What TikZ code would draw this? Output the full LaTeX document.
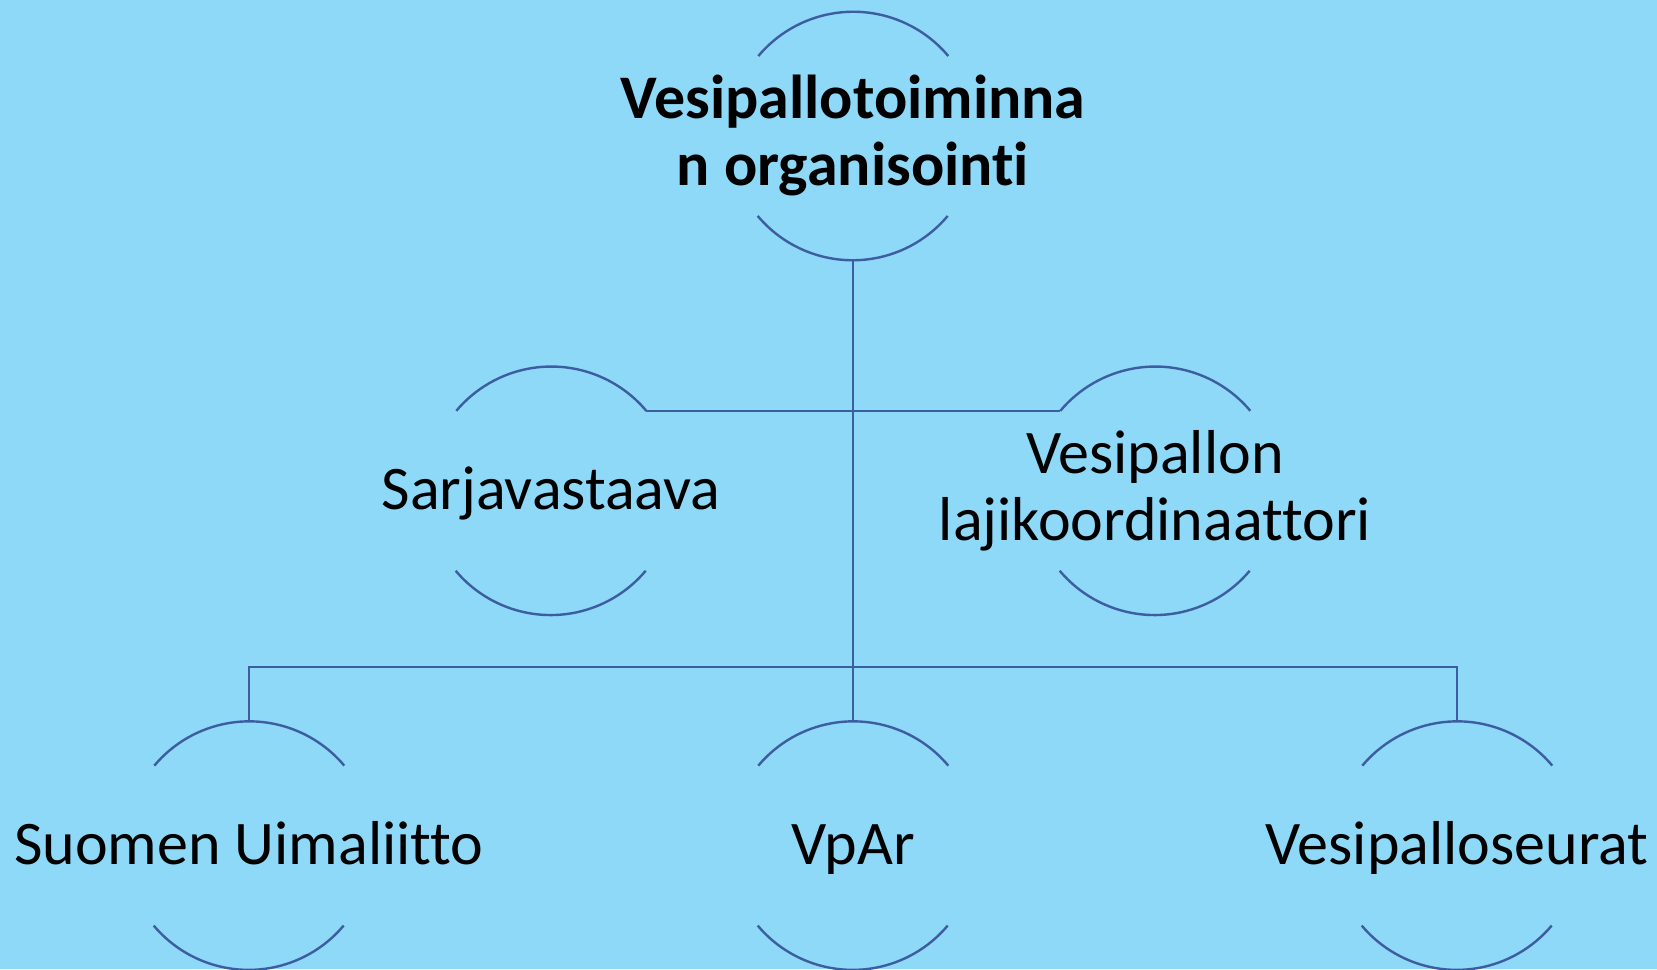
\documentclass[tikz,border=0pt]{standalone}
\usepackage{fontspec}
\setmainfont{Carlito}[Ligatures=NoCommon]
\usetikzlibrary{positioning}
\definecolor{bgblue}{RGB}{142,216,248}
\definecolor{arcblue}{RGB}{60,94,160}

\begin{document}
\begin{tikzpicture}[ring/.style={circle,minimum size=124pt,inner sep=0pt,node distance=53pt},txt/.style={font=\fontsize{31}{33.5}\selectfont,align=center,inner sep=0pt},one/.style={txt,text height=22pt,text depth=3pt},link/.style={draw=arcblue,line width=1.2pt}]
		\fill[bgblue] (-426.5pt,68pt) rectangle (402pt,-416.5pt);
		\useasboundingbox (-426.5pt,68pt) rectangle (402pt,-416.5pt);

		\node[ring]								(1)		{};
		\node[ring,below=of 1,xshift=-151pt]	(2)		{};
		\node[ring,below=of 1,xshift=151pt]		(3)		{};
		\node[ring,below=of 2,xshift=-151pt]	(4)		{};
		\node[ring,below=of 2,xshift=151pt]		(5)		{};
		\node[ring,below=of 3,xshift=151pt]		(6)		{};
		\coordinate (bus) at (0,-265.5pt);

		\node[txt,font=\fontsize{31}{33.5}\selectfont\bfseries]	(t1) at (1) {Vesipallotoiminna\\n organisointi};
		\node[one]	(t2) at (2) {Sarjavastaava};
		\node[txt]	(t3) at (3) {Vesipallon\\lajikoordinaattori};
		\node[one]	(t4) at (4) {Suomen Uimaliitto};
		\node[one]	(t5) at (5) {VpAr};
		\node[one]	(t6) at (6) {Vesipalloseurat};

		\foreach \n in {1,...,6}
			\draw[link] (\n.40) arc[start angle=40,end angle=140,radius=62pt] (\n.220) arc[start angle=220,end angle=320,radius=62pt];

		\draw[link] (1.south) -- (5.north);
		\draw[link] (2.40) -- (3.140);
		\draw[link] (4.north) |- (bus) -| (6.north);
	\end{tikzpicture}
\end{document}
